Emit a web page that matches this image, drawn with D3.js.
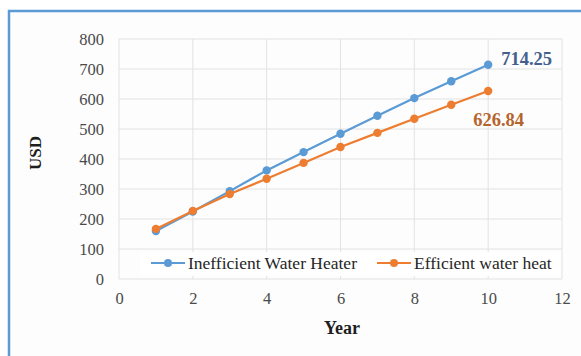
<!DOCTYPE html>
<html>
<head>
<meta charset="utf-8">
<script src="https://cdn.jsdelivr.net/npm/d3@7"></script>
<style>
  html, body { margin: 0; padding: 0; background: #ffffff; }
  svg { display: block; }
</style>
</head>
<body>
<svg id="chart" width="581" height="356"></svg>
<script>
// Yearly cost of running each water heater (USD)
const years = [1, 2, 3, 4, 5, 6, 7, 8, 9, 10];
const inefficient = [160, 225, 293, 362, 423, 484, 544, 603, 659, 714.25];
const efficient = [167, 227, 283, 334, 387, 440, 487, 534, 581, 626.84];
const seriesNames = ["Inefficient Water Heater", "Efficient water heat"];
const xTicks = [0, 2, 4, 6, 8, 10, 12];
const yTicks = [0, 100, 200, 300, 400, 500, 600, 700, 800];

const colors = { inefficient: "#5b9bd5", efficient: "#ed7d31" };
const labelColors = { inefficient: "#44608f", efficient: "#b5652c" };

const svg = d3.select("#chart");
const W = 581, H = 356;
const serif = "'Liberation Serif', 'Times New Roman', serif";

// chart frame
svg.append("rect").attr("x", 0).attr("y", 0).attr("width", W).attr("height", H).attr("fill", "#ffffff");
svg.append("rect").attr("x", 9).attr("y", 11).attr("width", W).attr("height", H)
  .attr("fill", "#fdfdfd").attr("stroke", "#5b9bd5").attr("stroke-width", 2.5);

const x = d3.scaleLinear().domain([0, 12]).range([119, 562]);
const y = d3.scaleLinear().domain([0, 800]).range([279, 39]);

// gridlines
const grid = svg.append("g");
grid.selectAll("line.h").data(yTicks).join("line")
  .attr("x1", x(0)).attr("x2", x(12))
  .attr("y1", d => y(d)).attr("y2", d => y(d))
  .attr("stroke", "#e2e2e2").attr("stroke-width", 1);
grid.selectAll("line.v").data(xTicks).join("line")
  .attr("y1", y(0)).attr("y2", y(800))
  .attr("x1", d => x(d)).attr("x2", d => x(d))
  .attr("stroke", "#e2e2e2").attr("stroke-width", 1);

// axes
const xAxis = svg.append("g").attr("transform", `translate(0,${y(0)})`)
  .call(d3.axisBottom(x).tickValues(xTicks).tickSize(0).tickPadding(13));
const yAxis = svg.append("g").attr("transform", `translate(${x(0)},0)`)
  .call(d3.axisLeft(y).tickValues(yTicks).tickSize(0).tickPadding(15));
[xAxis, yAxis].forEach(a => {
  a.select(".domain").remove();
  a.selectAll("text").attr("font-family", serif).attr("font-size", 16.5).attr("fill", "#4a4a4a");
});

// axis titles
svg.append("text").attr("x", 342).attr("y", 334).attr("text-anchor", "middle")
  .attr("font-family", serif).attr("font-weight", "bold").attr("font-size", 18).attr("fill", "#1e1e1e")
  .text("Year");
svg.append("text").attr("transform", "translate(41,153) rotate(-90)").attr("text-anchor", "middle")
  .attr("font-family", serif).attr("font-weight", "bold").attr("font-size", 17).attr("fill", "#1e1e1e")
  .text("USD");

// lines and markers
const line = d3.line().x(d => x(d[0])).y(d => y(d[1]));
const series = [
  { key: "inefficient", values: inefficient },
  { key: "efficient", values: efficient }
];
series.forEach(s => {
  const pts = years.map((yr, i) => [yr, s.values[i]]);
  svg.append("path").datum(pts).attr("d", line)
    .attr("fill", "none").attr("stroke", colors[s.key]).attr("stroke-width", 2.2);
  svg.append("g").selectAll("circle").data(pts).join("circle")
    .attr("cx", d => x(d[0])).attr("cy", d => y(d[1])).attr("r", 4.2)
    .attr("fill", colors[s.key]);
});

// end-value labels
svg.append("text").attr("x", x(10) + 13).attr("y", y(inefficient[9]) + 0)
  .attr("font-family", serif).attr("font-weight", "bold").attr("font-size", 18.5)
  .attr("fill", labelColors.inefficient).text(inefficient[9].toFixed(2));
svg.append("text").attr("x", x(10) - 15).attr("y", y(efficient[9]) + 35)
  .attr("font-family", serif).attr("font-weight", "bold").attr("font-size", 18.5)
  .attr("fill", labelColors.efficient).text(efficient[9].toFixed(2));

// legend
const legend = svg.append("g");
legend.append("rect").attr("x", 140).attr("y", 252).attr("width", 420).attr("height", 24).attr("fill", "#ffffff");
const items = [
  { key: "inefficient", name: seriesNames[0], x0: 151 },
  { key: "efficient", name: seriesNames[1], x0: 377 }
];
items.forEach(it => {
  const g = legend.append("g");
  g.append("line").attr("x1", it.x0).attr("x2", it.x0 + 34).attr("y1", 263).attr("y2", 263)
    .attr("stroke", colors[it.key]).attr("stroke-width", 2.2);
  g.append("circle").attr("cx", it.x0 + 17).attr("cy", 263).attr("r", 4).attr("fill", colors[it.key]);
  g.append("text").attr("x", it.x0 + 37).attr("y", 269)
    .attr("font-family", serif).attr("font-size", 17.5).attr("fill", "#262626")
    .text(it.name);
});
</script>
</body>
</html>
